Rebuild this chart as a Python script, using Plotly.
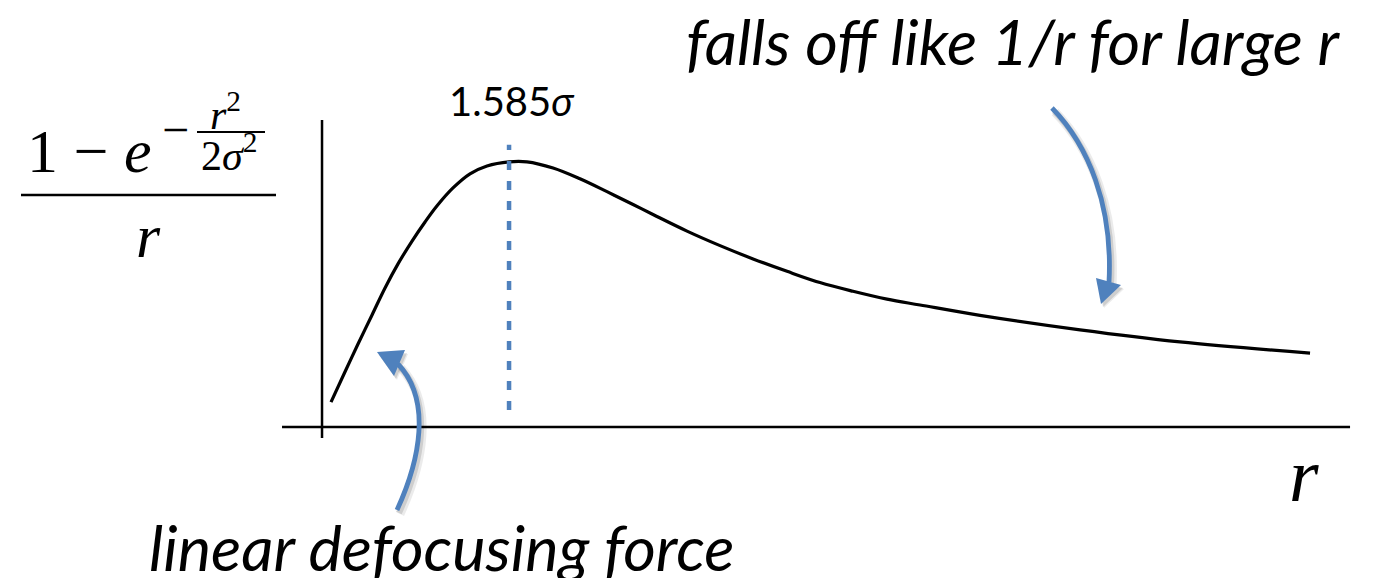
import plotly.graph_objects as go

# Sampled shape of (1 - exp(-r^2 / 2 sigma^2)) / r, r in units of sigma
r_vals = [0.076, 0.195, 0.305, 0.424, 0.534, 0.644, 0.763, 0.873, 0.975, 1.110,
          1.254, 1.398, 1.585, 1.737, 1.958, 2.186, 2.415, 2.636, 2.805, 3.093,
          3.373, 3.653, 3.941, 4.220, 4.500, 4.788, 5.068, 5.576, 6.424, 7.271,
          8.373]
f_vals = [0.060, 0.133, 0.200, 0.270, 0.335, 0.393, 0.448, 0.494, 0.533, 0.576,
          0.610, 0.629, 0.639, 0.639, 0.624, 0.598, 0.567, 0.536, 0.512, 0.472,
          0.437, 0.405, 0.375, 0.348, 0.327, 0.308, 0.294, 0.269, 0.234, 0.205,
          0.178]

peak_r = 1.585
peak_label = "1.585<i>σ</i>"
marker_span = [0.041, 0.680]
x_axis_span = [-0.339, 8.712]
y_axis_span = [-0.0265, 0.740]

W, H = 1376, 578
X_RANGE = [-2.729, 8.932]
Y_RANGE = [-0.3639, 1.0289]

BLUE = "#4F81BD"
MATH_FONT = "Liberation Serif"
TEXT_FONT = "Lato"


def P(x, y):
    """Pixel position on the canvas -> paper coordinates."""
    return x / W, 1 - y / H


def path(cmds):
    out = []
    for c in cmds:
        if isinstance(c, str):
            out.append(c)
        else:
            px, py = P(*c)
            out.append(f"{px:.5f},{py:.5f}")
    return " ".join(out)


fig = go.Figure()

# main curve
fig.add_trace(go.Scatter(x=r_vals, y=f_vals, mode="lines",
                         line=dict(color="black", width=3.2, shape="spline", smoothing=1.0),
                         hoverinfo="skip", showlegend=False))

# dashed marker at the maximum
fig.add_trace(go.Scatter(x=[peak_r, peak_r], y=marker_span, mode="lines",
                         line=dict(color=BLUE, width=4.5, dash="9px,11px"),
                         hoverinfo="skip", showlegend=False))

shapes = []
# axes lines
shapes.append(dict(type="line", xref="x", yref="y", x0=x_axis_span[0], x1=x_axis_span[1],
                   y0=0, y1=0, line=dict(color="black", width=2.5)))
shapes.append(dict(type="line", xref="x", yref="y", x0=0, x1=0,
                   y0=y_axis_span[0], y1=y_axis_span[1], line=dict(color="black", width=2.5)))


def curved_arrow(shaft, head):
    # soft drop shadow
    for dx, dy, w, op in [(3, 4, 9, 0.08), (2, 3, 6, 0.12)]:
        sh = [c if isinstance(c, str) else (c[0] + dx, c[1] + dy) for c in shaft]
        shapes.append(dict(type="path", xref="paper", yref="paper", path=path(sh),
                           line=dict(color=f"rgba(0,0,0,{op})", width=w)))
        hd = [c if isinstance(c, str) else (c[0] + dx, c[1] + dy) for c in head]
        shapes.append(dict(type="path", xref="paper", yref="paper", path=path(hd),
                           fillcolor=f"rgba(0,0,0,{op})", line=dict(width=0)))
    shapes.append(dict(type="path", xref="paper", yref="paper", path=path(shaft),
                       line=dict(color=BLUE, width=4.8)))
    shapes.append(dict(type="path", xref="paper", yref="paper", path=path(head),
                       fillcolor=BLUE, line=dict(width=0)))


# arrow toward the 1/r tail
curved_arrow(["M", (1052, 108), "C", (1088, 145), (1113, 205), (1109, 282)],
             ["M", (1101, 304), "L", (1096, 278), "L", (1121, 285), "Z"])
# arrow toward the linear rise
curved_arrow(["M", (397, 510), "C", (420, 460), (432, 400), (398, 364)],
             ["M", (377, 352), "L", (394, 376), "L", (405, 350), "Z"])

# fraction bars of the y label
shapes.append(dict(type="line", xref="paper", yref="paper",
                   x0=P(21, 0)[0], x1=P(276, 0)[0], y0=P(0, 195)[1], y1=P(0, 195)[1],
                   line=dict(color="black", width=2.5)))
shapes.append(dict(type="line", xref="paper", yref="paper",
                   x0=P(197, 0)[0], x1=P(265, 0)[0], y0=P(0, 132)[1], y1=P(0, 132)[1],
                   line=dict(color="black", width=2)))

annotations = []


def label(text, x, y, size, family, xanchor="center", yanchor="middle"):
    px, py = P(x, y)
    annotations.append(dict(text=text, x=px, y=py, xref="paper", yref="paper",
                            xanchor=xanchor, yanchor=yanchor, showarrow=False,
                            font=dict(size=size, family=family, color="black")))


# y label: (1 - e^{-r^2 / 2 sigma^2}) / r
label("1 − <i>e</i>", 89, 151, 62, MATH_FONT)
label("−", 175, 129, 48, MATH_FONT)
label("<i>r</i><sup>2</sup>", 226, 112, 42, MATH_FONT)
label("2<i>σ</i><sup>2</sup>", 229, 153, 42, MATH_FONT)
label("<i>r</i>", 148, 236, 62, MATH_FONT)

# x label
label("<i>r</i>", 1304, 475, 76, MATH_FONT)

# peak position label
label(peak_label, 512, 101, 40, TEXT_FONT)

# annotations in prose
label("<i>falls off like 1/r for large r</i>", 1013, 41, 63, TEXT_FONT)
label("<i>linear defocusing force</i>", 441, 546, 63, TEXT_FONT)

fig.update_layout(
    width=W, height=H,
    margin=dict(l=0, r=0, t=0, b=0),
    paper_bgcolor="white", plot_bgcolor="white",
    xaxis=dict(range=X_RANGE, visible=False, fixedrange=True),
    yaxis=dict(range=Y_RANGE, visible=False, fixedrange=True),
    shapes=shapes, annotations=annotations,
    showlegend=False,
)

fig.write_html("out.html", config={"displayModeBar": False})
